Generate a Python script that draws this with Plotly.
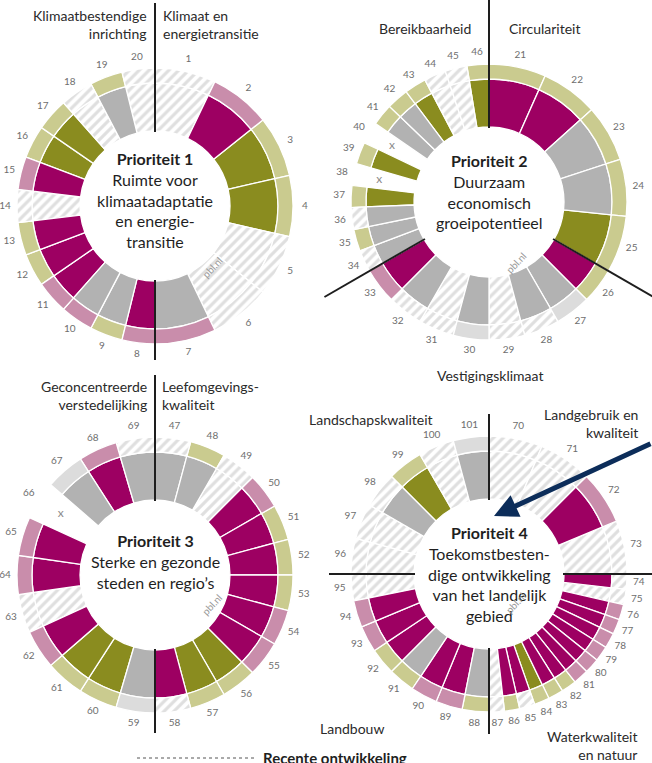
import math
import plotly.graph_objects as go

W, H = 652, 763
FONT = "Lato"

# ---------------- data ----------------
# inner ring (recent development): M = unfavourable, G = favourable, N = neutral, H = no data, X = not available
# outer ring: m / g / n / h likewise, x = not available
p1_first = 1
p1_inner = ["H", "M", "G", "G", "H", "H", "N", "M", "N", "N", "M", "M", "M", "H", "M", "G", "G", "H", "N", "H"]
p1_outer = ["h", "m", "g", "g", "h", "h", "m", "m", "g", "m", "m", "g", "g", "h", "m", "g", "g", "h", "g", "h"]
p1_theme_counts = [7, 13]
p1_theme_spans = [180, 180]
p1_title = ["Prioriteit 1", "Ruimte voor", "klimaatadaptatie", "en energie-", "transitie"]

p2_first = 21
p2_inner = ["M", "M", "N", "N", "G", "M", "N", "N", "H", "N", "H", "N", "M",
            "N", "N", "N", "G", "X", "G", "X", "N", "N", "G", "H", "H", "G"]
p2_outer = ["g", "g", "g", "g", "g", "g", "n", "h", "h", "n", "h", "h", "m",
            "h", "g", "h", "g", "x", "g", "x", "g", "g", "g", "h", "h", "g"]
p2_theme_counts = [5, 8, 13]
p2_theme_spans = [120, 120, 120]
p2_title = ["Prioriteit 2", "Duurzaam", "economisch", "groeipotentieel"]

p3_first = 47
p3_inner = ["N", "N", "H", "M", "M", "M", "M", "M", "M", "G", "G", "M",
            "N", "G", "G", "M", "H", "M", "M", "X", "N", "M", "N"]
p3_outer = ["h", "g", "h", "m", "g", "g", "g", "m", "m", "g", "g", "h",
            "n", "g", "g", "m", "h", "m", "m", "x", "n", "m", "h"]
p3_theme_counts = [12, 11]
p3_theme_spans = [180, 180]
p3_title = ["Prioriteit 3", "Sterke en gezonde", "steden en regio’s"]

p4_first = 70
p4_inner = ["H", "H", "M", "H",
            "M", "H", "M", "M", "M", "M", "M", "M", "M", "M", "G", "M", "M", "H",
            "N", "M", "M", "N", "M", "M", "M", "H",
            "H", "H", "N", "G", "H", "N"]
p4_outer = ["h", "h", "m", "h",
            "h", "h", "m", "m", "m", "m", "m", "m", "g", "g", "g", "h", "g", "h",
            "g", "m", "m", "g", "g", "m", "m", "h",
            "h", "h", "h", "g", "h", "n"]
p4_theme_counts = [4, 14, 8, 6]
p4_theme_spans = [90, 90, 90, 90]
p4_title = ["Prioriteit 4", "Toekomstbesten-", "dige ontwikkeling", "van het landelijk", "gebied"]

legend_title = "Recente ontwikkeling"

# ---------------- style ----------------
R_IN, R_MID, R_OUT, R_LABEL, R_X, R_AX = 75, 123, 138, 150, 112, 155
HATCH = dict(shape="/", fgcolor="#c0c0c0", bgcolor="white", size=7, solidity=0.45)
FILLS = {
    "M": "#9d0062", "G": "#8a8c1f", "N": "#b2b2b2",
    "m": "#c98dab", "g": "#cacb8f", "n": "#dcdcdc",
}
LINE_COL = "#1e1e1e"

charts = [
    dict(sp="polar", c=(155, 206), first=p1_first, inner=p1_inner, outer=p1_outer,
         counts=p1_theme_counts, spans=p1_theme_spans, title=p1_title, tcy=200,
         lines=[(0, 203), (180, 154)]),
    dict(sp="polar2", c=(489, 202), first=p2_first, inner=p2_inner, outer=p2_outer,
         counts=p2_theme_counts, spans=p2_theme_spans, title=p2_title, tcy=192,
         lines=[(0, 204), (120, 190), (240, 190)]),
    dict(sp="polar3", c=(155, 575), first=p3_first, inner=p3_inner, outer=p3_outer,
         counts=p3_theme_counts, spans=p3_theme_spans, title=p3_title, tcy=561,
         lines=[(0, 200), (180, 158)]),
    dict(sp="polar4", c=(489, 574), first=p4_first, inner=p4_inner, outer=p4_outer,
         counts=p4_theme_counts, spans=p4_theme_spans, title=p4_title, tcy=574,
         lines=[(0, 160), (90, 164), (180, 160), (270, 160)]),
]


def px2paper(x, y):
    return x / W, 1 - y / H


def polar_pt(c, ang, r):
    a = math.radians(ang)
    return c[0] + r * math.sin(a), c[1] - r * math.cos(a)


def angles(counts, spans):
    th, wd = [], []
    start = 0.0
    for n, s in zip(counts, spans):
        w = s / n
        for k in range(n):
            th.append(start + (k + 0.5) * w)
            wd.append(w)
        start += s
    return th, wd


fig = go.Figure()
shapes, annotations, layout_polars = [], [], {}

for ch in charts:
    th, wd = angles(ch["counts"], ch["spans"])
    sp = ch["sp"]
    for ring, codes, base, length in (("inner", ch["inner"], R_IN, R_MID - R_IN),
                                      ("outer", ch["outer"], R_MID, R_OUT - R_MID)):
        for code in sorted(set(codes)):
            if code in ("X", "x"):
                continue
            idx = [i for i, c in enumerate(codes) if c == code]
            if code in ("H", "h"):
                marker = dict(color="white", pattern=HATCH, line=dict(color="white", width=1.3))
            else:
                marker = dict(color=FILLS[code], line=dict(color="white", width=1.3))
            fig.add_trace(go.Barpolar(
                r=[length] * len(idx), base=[base] * len(idx),
                theta=[th[i] for i in idx], width=[wd[i] for i in idx],
                marker=marker, subplot=sp, showlegend=False, hoverinfo="skip"))
    nums = [str(ch["first"] + i) for i in range(len(ch["inner"]))]
    fig.add_trace(go.Scatterpolar(
        r=[R_LABEL] * len(nums), theta=th, text=nums, mode="text",
        textfont=dict(family=FONT, size=10, color="#6e6e6e"),
        subplot=sp, showlegend=False, hoverinfo="skip", cliponaxis=False))
    xi = [i for i, c in enumerate(ch["inner"]) if c == "X"]
    if xi:
        fig.add_trace(go.Scatterpolar(
            r=[R_X] * len(xi), theta=[th[i] for i in xi], text=["x"] * len(xi), mode="text",
            textfont=dict(family=FONT, size=12, color="#8a8a8a"),
            subplot=sp, showlegend=False, hoverinfo="skip", cliponaxis=False))

    cx, cy = ch["c"]
    x0, y1 = px2paper(cx - R_AX, cy - R_AX)
    x1, y0 = px2paper(cx + R_AX, cy + R_AX)
    layout_polars[sp] = dict(
        domain=dict(x=[max(0, x0), min(1, x1)], y=[y0, y1]),
        bgcolor="rgba(0,0,0,0)", barmode="overlay",
        radialaxis=dict(range=[0, R_AX], visible=False, showgrid=False),
        angularaxis=dict(visible=False, rotation=90, direction="clockwise", showgrid=False))

    for ang, rlen in ch["lines"]:
        ax0, ay0 = px2paper(*polar_pt(ch["c"], ang, R_IN - 1))
        ax1, ay1 = px2paper(*polar_pt(ch["c"], ang, rlen))
        shapes.append(dict(type="line", xref="paper", yref="paper", x0=ax0, y0=ay0, x1=ax1, y1=ay1,
                           line=dict(color=LINE_COL, width=2), layer="above"))

    t = ch["title"]
    txt = "<b>" + t[0] + "</b><br>" + "<br>".join(t[1:])
    tx, ty = px2paper(cx, ch["tcy"])
    annotations.append(dict(x=tx, y=ty, xref="paper", yref="paper", text=txt, showarrow=False,
                            xanchor="center", yanchor="middle", align="center",
                            font=dict(family=FONT, size=16, color="#1f1f1f")))
    px_, py_ = px2paper(cx + 42, cy + 45)
    annotations.append(dict(x=px_, y=py_, xref="paper", yref="paper", text="pbl.nl", showarrow=False,
                            textangle=-47, font=dict(family=FONT, size=10, color="#9a9a9a")))

# theme labels
theme_labels = [
    ("Klimaatbestendige<br>inrichting", 148, 24, "right"),
    ("Klimaat en<br>energietransitie", 162, 24, "left"),
    ("Bereikbaarheid", 472, 28, "right"),
    ("Circulariteit", 508, 28, "left"),
    ("Vestigingsklimaat", 490, 375, "center"),
    ("Geconcentreerde<br>verstedelijking", 148, 395, "right"),
    ("Leefomgevings-<br>kwaliteit", 161, 395, "left"),
    ("Landschapskwaliteit", 308, 419, "left"),
    ("Landgebruik en<br>kwaliteit", 639, 423, "right"),
    ("Landbouw", 319, 728, "left"),
    ("Waterkwaliteit<br>en natuur", 638, 745, "right"),
]
for txt, x, y, anc in theme_labels:
    px_, py_ = px2paper(x, y)
    annotations.append(dict(x=px_, y=py_, xref="paper", yref="paper", text=txt, showarrow=False,
                            xanchor=anc, yanchor="middle", align=anc, borderpad=0,
                            font=dict(family=FONT, size=14, color="#2a2a2a")))

# arrow into Prioriteit 4
tipx, tipy = px2paper(494, 516)
annotations.append(dict(x=tipx, y=tipy, xref="paper", yref="paper", text="", showarrow=True,
                        ax=170, ay=-73, axref="pixel", ayref="pixel",
                        arrowhead=2, arrowsize=0.95, arrowwidth=5, arrowcolor="#0c2d5a"))

# legend heading
lx0, ly = px2paper(137, 758)
lx1, _ = px2paper(257, 758)
shapes.append(dict(type="line", xref="paper", yref="paper", x0=lx0, y0=ly, x1=lx1, y1=ly,
                   line=dict(color="#555555", width=1, dash="dot")))
tx, ty = px2paper(261, 758)
annotations.append(dict(x=tx, y=ty, xref="paper", yref="paper", text="<b>" + legend_title + "</b>",
                        showarrow=False, xanchor="left", yanchor="middle",
                        font=dict(family=FONT, size=15, color="#1f1f1f")))

fig.update_layout(width=W, height=H, margin=dict(l=0, r=0, t=0, b=0),
                  paper_bgcolor="white", plot_bgcolor="white",
                  shapes=shapes, annotations=annotations, **layout_polars)
fig.write_html("out.html", config={"displayModeBar": False},
               post_script="document.body.style.margin='0';document.body.style.overflow='hidden';")
